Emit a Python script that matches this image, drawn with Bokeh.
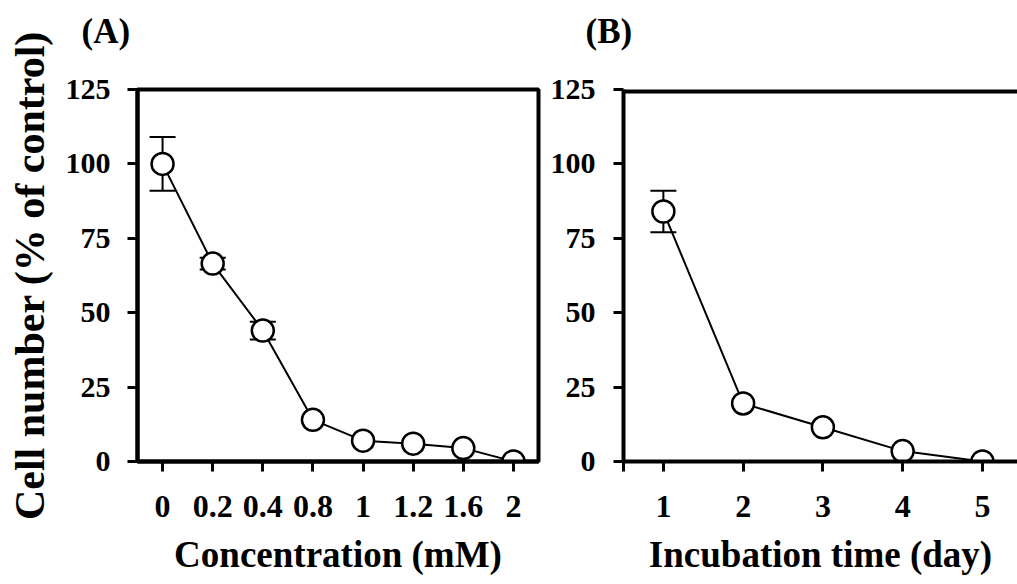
from bokeh.plotting import figure
from bokeh.models import (Range1d, FactorRange, FixedTicker, Whisker, ColumnDataSource,
                          Span, Title, TeeHead)
from bokeh.layouts import row
from bokeh.embed import file_html
from bokeh.resources import INLINE

# ---- data ----
conc_labels = ["0", "0.2", "0.4", "0.8", "1", "1.2", "1.6", "2"]
conc_values = [100, 66.5, 44, 14, 7, 6, 4.5, 0]
conc_err = [9, 2, 3, 0, 0, 0, 0, 0]

days = [1, 2, 3, 4, 5]
day_values = [84, 19.5, 11.5, 3.5, 0]
day_err = [7, 0, 0, 0, 0]

y_ticks = [0, 25, 50, 75, 100, 125]

FONT = "Liberation Serif"


def style(p, ystand):
    p.outline_line_color = "black"
    p.outline_line_width = 4
    p.xgrid.visible = False
    p.ygrid.visible = False
    p.background_fill_color = "white"
    p.border_fill_color = "white"
    for ax in (p.xaxis[0], p.yaxis[0]):
        ax.axis_line_width = 4
        ax.axis_line_color = "black"
        ax.major_tick_line_width = 3
        ax.major_tick_line_color = "black"
        ax.major_tick_in = 0
        ax.major_tick_out = 10
        ax.minor_tick_line_color = None
        ax.major_label_text_font = FONT
        ax.major_label_text_font_style = "bold"
        ax.major_label_text_color = "black"
        ax.axis_label_text_font = FONT
        ax.axis_label_text_font_style = "bold"
        ax.axis_label_text_color = "black"
    p.xaxis[0].major_label_text_font_size = "32px"
    p.yaxis[0].major_label_text_font_size = "30px"
    p.yaxis[0].major_label_standoff = ystand
    p.xaxis[0].major_label_standoff = 24
    p.xaxis[0].axis_label_text_font_size = "37px"
    p.xaxis[0].axis_label_standoff = 14
    p.yaxis[0].ticker = FixedTicker(ticks=y_ticks)


def panel_title(p, text, offset):
    # spacer between frame and the panel letter
    p.add_layout(Title(text=" ", text_font=FONT, text_font_size="23px",
                       standoff=0), "above")
    p.add_layout(Title(text=text, text_font=FONT, text_font_style="bold",
                       text_font_size="35px", text_color="black",
                       align="left", offset=offset, vertical_align="top",
                       standoff=20), "above")


# ---- panel A ----
pa = figure(width=545, height=584, output_backend="svg", toolbar_location=None,
            x_range=FactorRange(*conc_labels, range_padding=0),
            y_range=Range1d(0, 125),
            min_border_left=137, min_border_right=7,
            min_border_top=89, min_border_bottom=123)
style(pa, 17)
pa.xaxis[0].axis_label = "Concentration (mM)"
pa.yaxis[0].axis_label = "Cell number (% of control)"
pa.yaxis[0].axis_label_text_font_size = "42px"
pa.yaxis[0].axis_label_standoff = 10

srcA = ColumnDataSource(dict(x=conc_labels, y=conc_values))
eA = [(c, v, e) for c, v, e in zip(conc_labels, conc_values, conc_err) if e > 0]
errA = ColumnDataSource(dict(x=[t[0] for t in eA],
                             upper=[t[1] + t[2] for t in eA],
                             lower=[t[1] - t[2] for t in eA]))
pa.add_layout(Whisker(base="x", upper="upper", lower="lower", source=errA,
                      line_width=2, line_color="black",
                      upper_head=TeeHead(size=26, line_width=2),
                      lower_head=TeeHead(size=26, line_width=2)))
pa.line("x", "y", source=srcA, line_width=2, line_color="black")
pa.scatter("x", "y", source=srcA, marker="circle", size=22,
           fill_color="white", line_color="black", line_width=2.5)
panel_title(pa, "(A)", -56)

# ---- panel B ----
pb = figure(width=472, height=584, output_backend="svg", toolbar_location=None,
            x_range=Range1d(0.5, 5.44), y_range=Range1d(0, 125),
            min_border_left=78, min_border_right=0,
            min_border_top=89, min_border_bottom=123)
style(pb, 18)
pb.outline_line_color = None
pb.xaxis[0].ticker = FixedTicker(ticks=[0.5] + days)
pb.xaxis[0].major_label_overrides = {0.5: ""}
pb.xaxis[0].axis_label = "Incubation time (day)"
pb.add_layout(Span(location=125, dimension="width", line_width=8, line_color="black"))

srcB = ColumnDataSource(dict(x=days, y=day_values))
eB = [(d, v, e) for d, v, e in zip(days, day_values, day_err) if e > 0]
errB = ColumnDataSource(dict(x=[t[0] for t in eB],
                             upper=[t[1] + t[2] for t in eB],
                             lower=[t[1] - t[2] for t in eB]))
pb.add_layout(Whisker(base="x", upper="upper", lower="lower", source=errB,
                      line_width=2, line_color="black",
                      upper_head=TeeHead(size=26, line_width=2),
                      lower_head=TeeHead(size=26, line_width=2)))
pb.line("x", "y", source=srcB, line_width=2, line_color="black")
pb.scatter("x", "y", source=srcB, marker="circle", size=22,
           fill_color="white", line_color="black", line_width=2.5)
panel_title(pb, "(B)", -38)

layout = row(pa, pb, spacing=0)
open("out.html", "w").write(file_html(layout, INLINE))
